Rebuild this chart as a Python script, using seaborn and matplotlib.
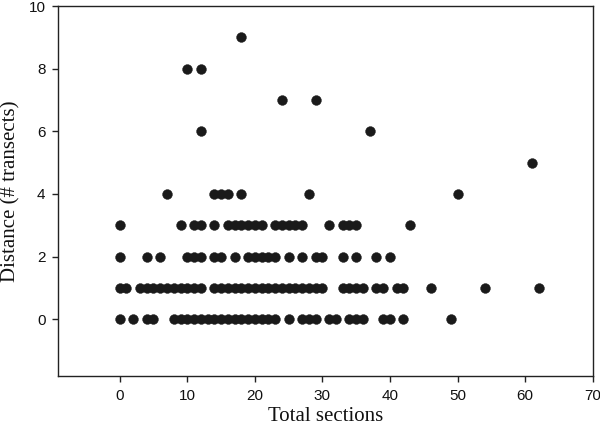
import matplotlib
matplotlib.use("Agg")
import matplotlib.pyplot as plt
import seaborn as sns
import pandas as pd

# Total sections observed at each distance value
sections_d0 = [0, 2, 4, 5] + list(range(8, 24)) + [25, 27, 28, 29, 31, 32, 34, 35, 36, 39, 40, 42, 49]
sections_d1 = [0, 1] + list(range(3, 13)) + list(range(14, 31)) + [33, 34, 35, 36, 38, 39, 41, 42, 46, 54, 62]
sections_d2 = [0, 4, 6, 10, 11, 12, 14, 15, 17, 19, 20, 21, 22, 23, 25, 27, 29, 30, 33, 35, 38, 40]
sections_d3 = [0, 9, 11, 12, 14, 16, 17, 18, 19, 20, 21, 23, 24, 25, 26, 27, 31, 33, 34, 35, 43]
sections_d4 = [7, 14, 15, 16, 18, 28, 50]
sections_d5 = [61]
sections_d6 = [12, 37]
sections_d7 = [24, 29]
sections_d8 = [10, 12]
sections_d9 = [18]

groups = {0: sections_d0, 1: sections_d1, 2: sections_d2, 3: sections_d3, 4: sections_d4,
          5: sections_d5, 6: sections_d6, 7: sections_d7, 8: sections_d8, 9: sections_d9}
rows = [(x, d) for d, xs in groups.items() for x in xs]
df = pd.DataFrame(rows, columns=["Total sections", "Distance"])

sns.set_style("ticks")
fig = plt.figure(figsize=(6.0, 4.28), dpi=100)
ax = fig.add_axes([58 / 600, 1 - 376 / 428, 534.7 / 600, 370 / 428])

sns.scatterplot(data=df, x="Total sections", y="Distance", ax=ax,
                color="#1a1a1a", s=50, edgecolor="#1a1a1a", linewidth=0.3, legend=False)

ax.set_xlim(-9.13, 70)
ax.set_ylim(-1.81, 10)
ax.set_xticks(range(0, 71, 10))
ax.set_yticks(range(0, 11, 2))
for side in ["left", "right", "top", "bottom"]:
    ax.spines[side].set_visible(True)
    ax.spines[side].set_color("#222222")
    ax.spines[side].set_linewidth(1.0)
ax.tick_params(axis="both", direction="out", length=4, width=1, color="#222222",
               labelsize=11, labelcolor="#111111", top=False, right=False, pad=5)
for lab in ax.get_xticklabels() + ax.get_yticklabels():
    lab.set_fontfamily(["Liberation Sans", "DejaVu Sans"])

ax.set_xlabel("Total sections", fontsize=15, family=["Liberation Serif", "DejaVu Serif"],
              color="#111111", labelpad=3)
ax.set_ylabel("Distance (# transects)", fontsize=15, family=["Liberation Serif", "DejaVu Serif"],
              color="#111111", labelpad=6)

fig.savefig("out.png", dpi=100)
